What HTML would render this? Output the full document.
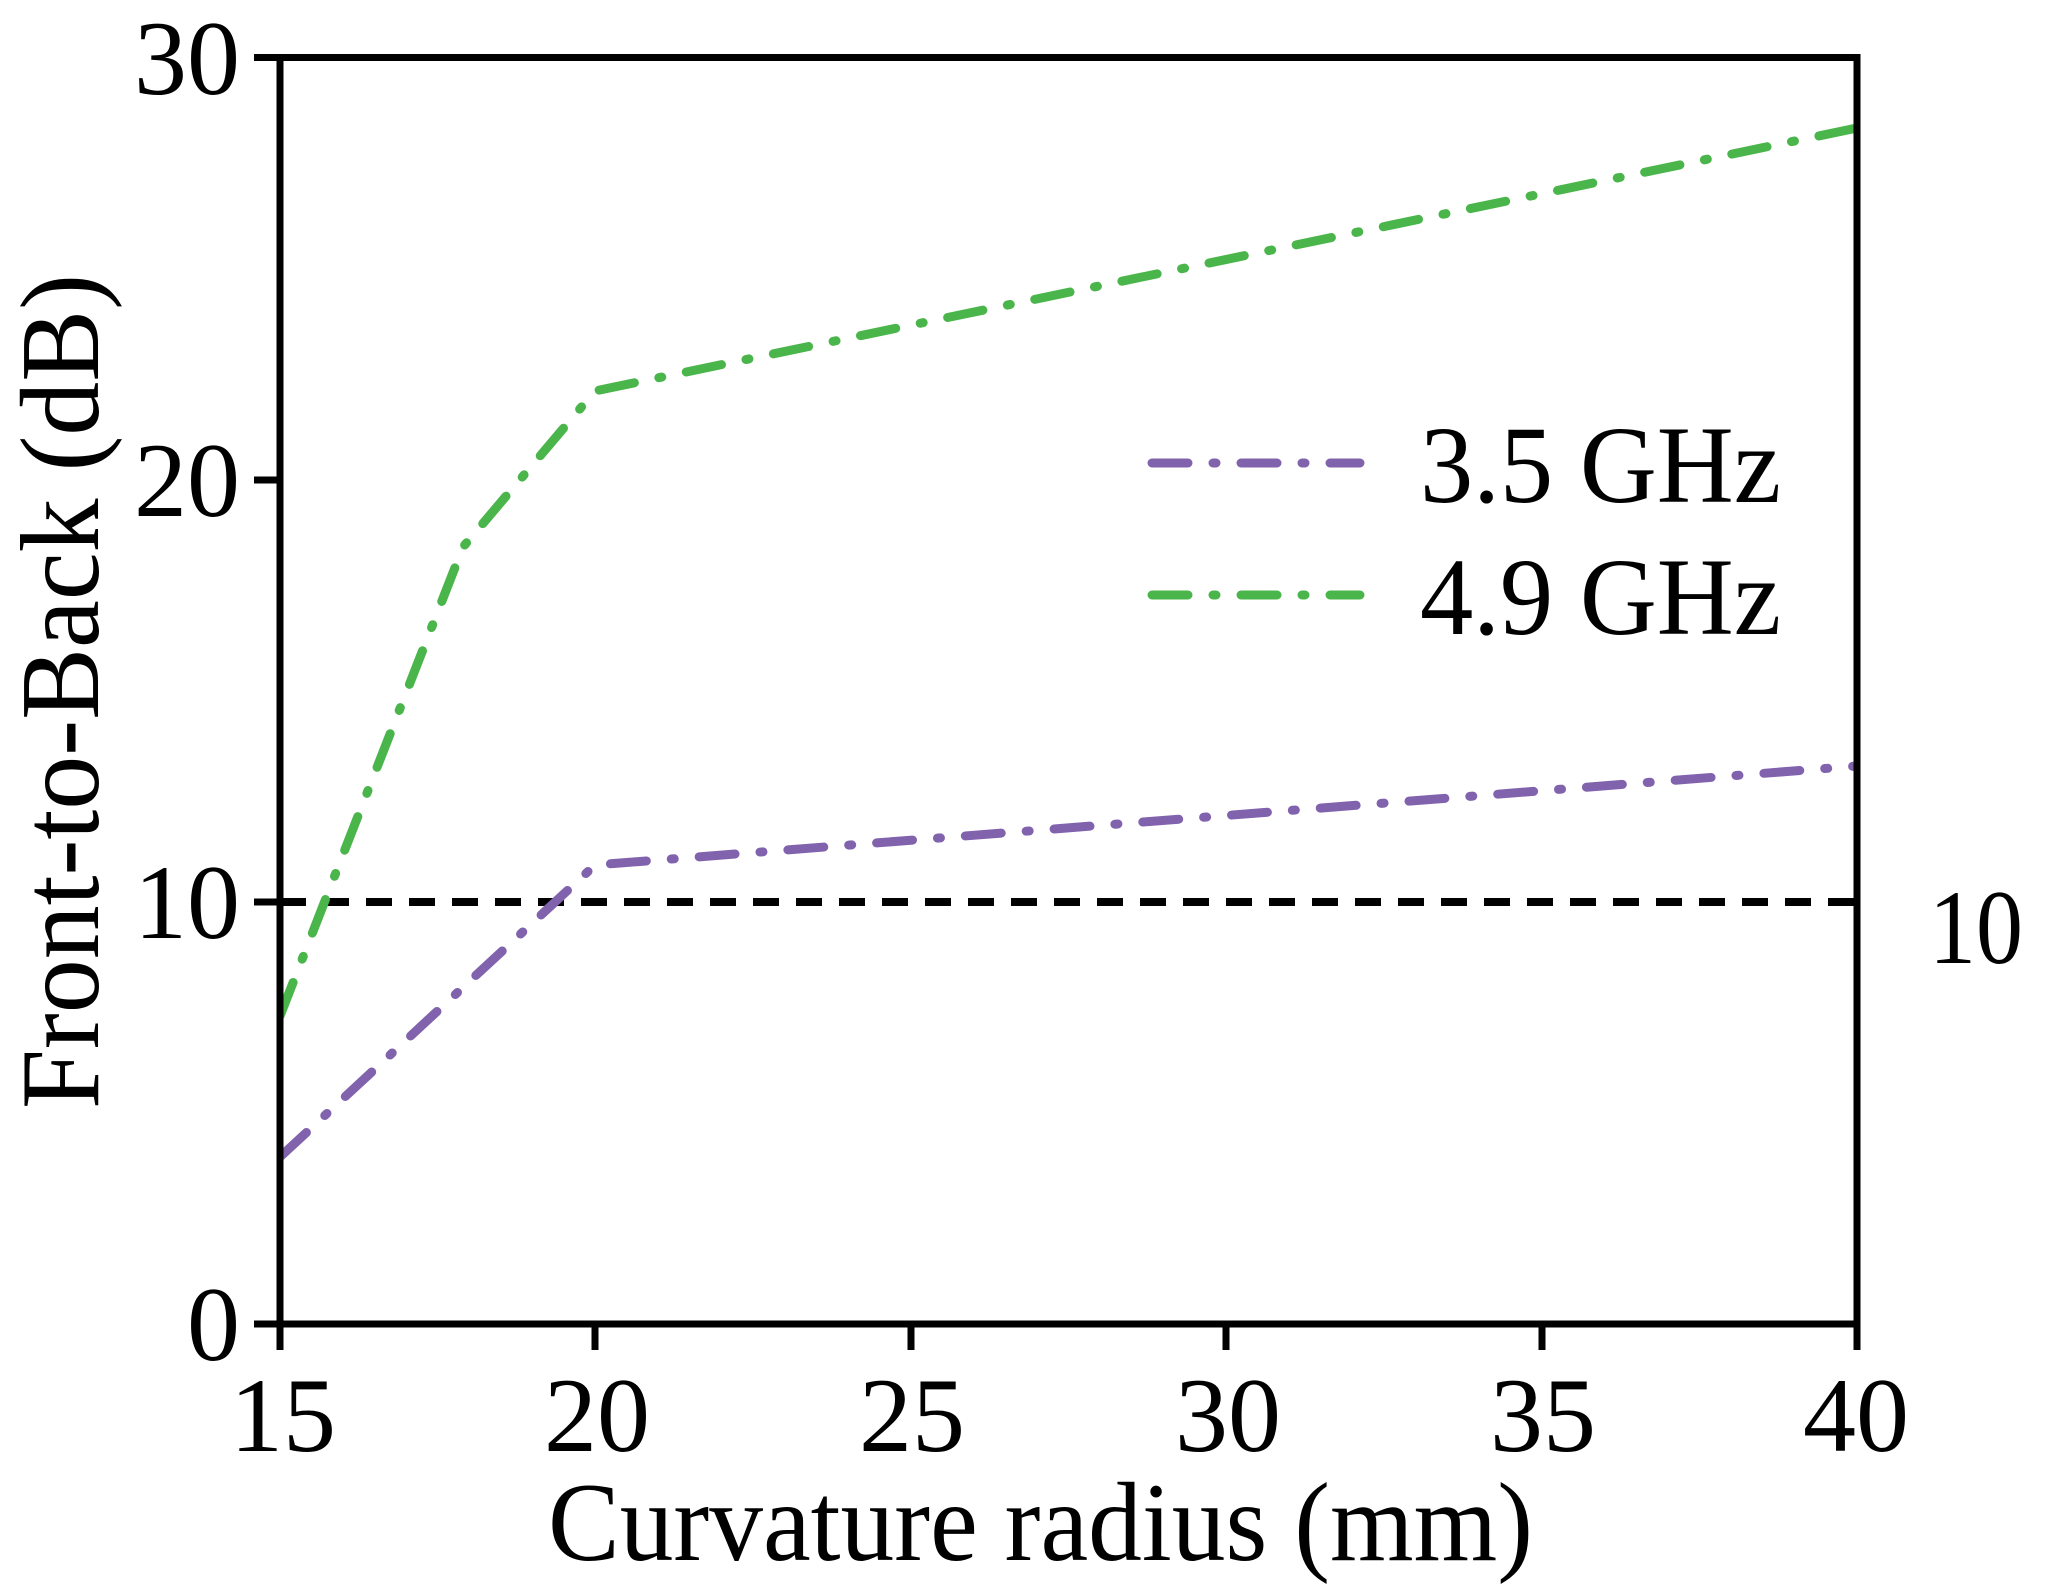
<!DOCTYPE html>
<html><head><meta charset="utf-8"><style>html,body{margin:0;padding:0;background:#fff}svg{display:block}</style></head>
<body>
<svg width="2046" height="1596" viewBox="0 0 2046 1596" xmlns="http://www.w3.org/2000/svg" font-family="'Liberation Serif', serif">
<defs><clipPath id="c"><rect x="280" y="57" width="1577" height="1267"/></clipPath></defs>
<g clip-path="url(#c)" fill="none">
<line x1="280" y1="902" x2="1857" y2="902" stroke="#000" stroke-width="8" stroke-dasharray="26 17"/>
<polyline points="280,1157 595,865 1857,766" stroke="#8062ad" stroke-width="9" stroke-linecap="round" stroke-dasharray="36 25 3 25"/>
<polyline points="280,1016 463,547 595,391 1857,128" stroke="#4ab54a" stroke-width="9" stroke-linecap="round" stroke-dasharray="36 25 3 25"/>
</g>
<rect x="280" y="57.5" width="1577" height="1266.5" fill="none" stroke="#000" stroke-width="7"/>
<g stroke="#000" stroke-width="7">
<line x1="254" y1="1324" x2="280" y2="1324"/><line x1="254" y1="902" x2="280" y2="902"/><line x1="254" y1="480" x2="280" y2="480"/><line x1="254" y1="57.5" x2="280" y2="57.5"/>
<line x1="280" y1="1324" x2="280" y2="1350"/><line x1="595" y1="1324" x2="595" y2="1350"/><line x1="911" y1="1324" x2="911" y2="1350"/><line x1="1226" y1="1324" x2="1226" y2="1350"/><line x1="1542" y1="1324" x2="1542" y2="1350"/><line x1="1857" y1="1324" x2="1857" y2="1350"/>
</g>
<g font-size="106" fill="#000" text-anchor="end">
<text x="240" y="1360">0</text>
<text x="240" y="938">10</text>
<text x="240" y="516">20</text>
<text x="240" y="94">30</text>
</g>
<g font-size="106" fill="#000" text-anchor="middle">
<text x="283" y="1451">15</text>
<text x="597" y="1451">20</text>
<text x="912" y="1451">25</text>
<text x="1228" y="1451">30</text>
<text x="1543" y="1451">35</text>
<text x="1856" y="1451">40</text>
</g>
<text x="548" y="1560" font-size="112" textLength="985" lengthAdjust="spacingAndGlyphs">Curvature radius (mm)</text>
<text transform="translate(98,1109) rotate(-90)" font-size="112" textLength="835" lengthAdjust="spacingAndGlyphs">Front-to-Back (dB)</text>
<text x="1929" y="963" font-size="106" textLength="94" lengthAdjust="spacingAndGlyphs">10</text>
<line x1="1152" y1="463" x2="1360" y2="463" stroke="#8062ad" stroke-width="9" stroke-linecap="round" stroke-dasharray="36 25 3 25"/>
<line x1="1152" y1="595" x2="1360" y2="595" stroke="#4ab54a" stroke-width="9" stroke-linecap="round" stroke-dasharray="36 25 3 25"/>
<text x="1420" y="502" font-size="110" textLength="361" lengthAdjust="spacingAndGlyphs">3.5 GHz</text>
<text x="1420" y="634" font-size="110" textLength="361" lengthAdjust="spacingAndGlyphs">4.9 GHz</text>
</svg>
</body></html>
